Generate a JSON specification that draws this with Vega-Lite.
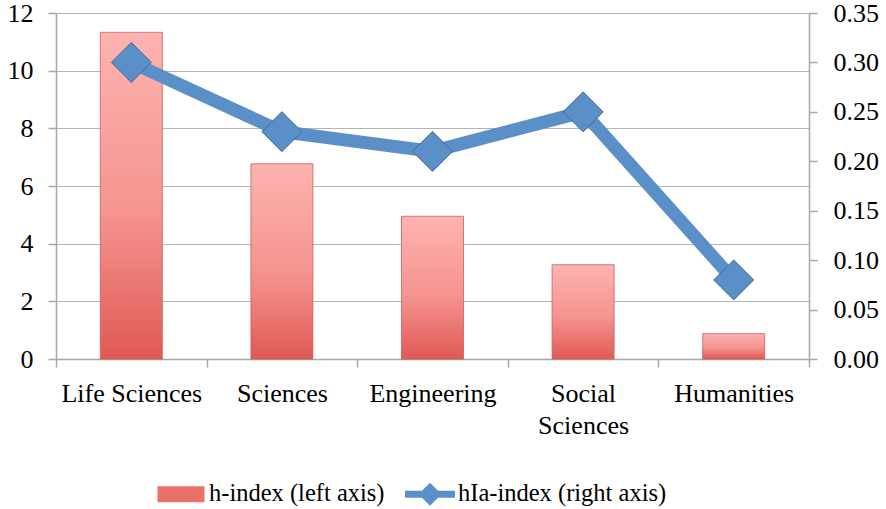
{
  "$schema": "https://vega.github.io/schema/vega-lite/v6.json",
  "width": 753,
  "height": 346,
  "padding": {"left": 7, "top": 0, "right": 4, "bottom": 4},
  "background": "white",
  "data": {
    "values": [
      {"cat": "Life Sciences", "h": 11.33, "hia": 0.30},
      {"cat": "Sciences", "h": 6.77, "hia": 0.23},
      {"cat": "Engineering", "h": 4.95, "hia": 0.21},
      {"cat": "Social Sciences", "h": 3.27, "hia": 0.25},
      {"cat": "Humanities", "h": 0.88, "hia": 0.08}
    ]
  },
  "encoding": {
    "x": {
      "field": "cat",
      "type": "nominal",
      "sort": null,
      "scale": {"paddingInner": 0, "paddingOuter": 0},
      "axis": {
        "title": null,
        "labelAngle": 0,
        "tickBand": "extent",
        "tickSize": 8,
        "labelPadding": 13,
        "labelLineHeight": 32,
        "labelFont": "Liberation Serif",
        "labelFontSize": 26,
        "labelExpr": "datum.label == 'Social Sciences' ? ['Social', 'Sciences'] : datum.label",
        "grid": false
      }
    }
  },
  "layer": [
    {
      "mark": {
        "type": "bar",
        "size": 62,
        "color": {
          "gradient": "linear",
          "x1": 0, "y1": 0, "x2": 0, "y2": 1,
          "stops": [
            {"offset": 0, "color": "#fdb3b0"},
            {"offset": 0.55, "color": "#f59490"},
            {"offset": 1, "color": "#e05955"}
          ]
        },
        "stroke": "#c9605c",
        "strokeWidth": 0.8
      },
      "encoding": {
        "y": {
          "field": "h",
          "type": "quantitative",
          "scale": {"domain": [0, 12], "nice": false},
          "axis": {
            "title": null,
            "values": [0, 2, 4, 6, 8, 10, 12],
            "grid": true,
            "tickSize": 8,
            "labelPadding": 15,
            "labelFont": "Liberation Serif",
            "labelFontSize": 26
          }
        }
      }
    },
    {
      "layer": [
        {
          "mark": {"type": "line", "color": "#5b8fc7", "strokeWidth": 13},
          "encoding": {}
        },
        {
          "mark": {"type": "point", "shape": "diamond", "size": 1600, "filled": true, "opacity": 1, "color": "#5b8fc7", "stroke": "#41699a", "strokeWidth": 1},
          "encoding": {}
        },
        {
          "transform": [{"filter": "false"}],
          "mark": {"type": "point", "filled": true, "opacity": 1, "strokeWidth": 0},
          "encoding": {
            "color": {
              "datum": "hIa-index (right axis)",
              "scale": {
                "domain": ["h-index (left axis)", "hIa-index (right axis)"],
                "range": ["#ea706c", "#5b8fc7"]
              },
              "legend": {
                "title": null,
                "orient": "none",
                "legendX": 100,
                "legendY": 456,
                "direction": "horizontal",
                "symbolSize": 2500,
                "symbolStrokeWidth": 0,
                "symbolOpacity": 1,
                "labelFont": "Liberation Serif",
                "labelFontSize": 24.5,
                "labelColor": "black",
                "labelLimit": 0,
                "labelOffset": 3,
                "columnPadding": 20
              }
            },
            "shape": {
              "datum": "hIa-index (right axis)",
              "scale": {
                "domain": ["h-index (left axis)", "hIa-index (right axis)"],
                "range": ["M-0.94,-0.32H0.94V0.32H-0.94Z", "M-1,-0.14H1V0.14H-1Z M0,-0.46L0.46,0L0,0.46L-0.46,0Z"]
              },
              "legend": {
                "title": null,
                "orient": "none",
                "legendX": 100,
                "legendY": 456,
                "direction": "horizontal",
                "symbolSize": 2500,
                "symbolStrokeWidth": 0,
                "symbolOpacity": 1,
                "labelFont": "Liberation Serif",
                "labelFontSize": 24.5,
                "labelColor": "black",
                "labelLimit": 0,
                "labelOffset": 3,
                "columnPadding": 20
              }
            }
          }
        }
      ],
      "encoding": {
        "y": {
          "field": "hia",
          "type": "quantitative",
          "scale": {"domain": [0, 0.35], "nice": false},
          "axis": {
            "title": null,
            "orient": "right",
            "values": [0, 0.05, 0.1, 0.15, 0.2, 0.25, 0.3, 0.35],
            "format": ".2f",
            "grid": false,
            "tickSize": 8,
            "labelPadding": 16,
            "labelFont": "Liberation Serif",
            "labelFontSize": 26
          }
        }
      }
    }
  ],
  "resolve": {"scale": {"y": "independent"}},
  "config": {
    "font": "Liberation Serif",
    "view": {"stroke": null},
    "axis": {
      "labelFont": "Liberation Serif",
      "labelColor": "black",
      "gridColor": "#b5b5b5",
      "gridWidth": 1.2,
      "domainColor": "#a6a6a6",
      "domainWidth": 1.5,
      "tickColor": "#a6a6a6",
      "tickWidth": 1.5
    }
  }
}
